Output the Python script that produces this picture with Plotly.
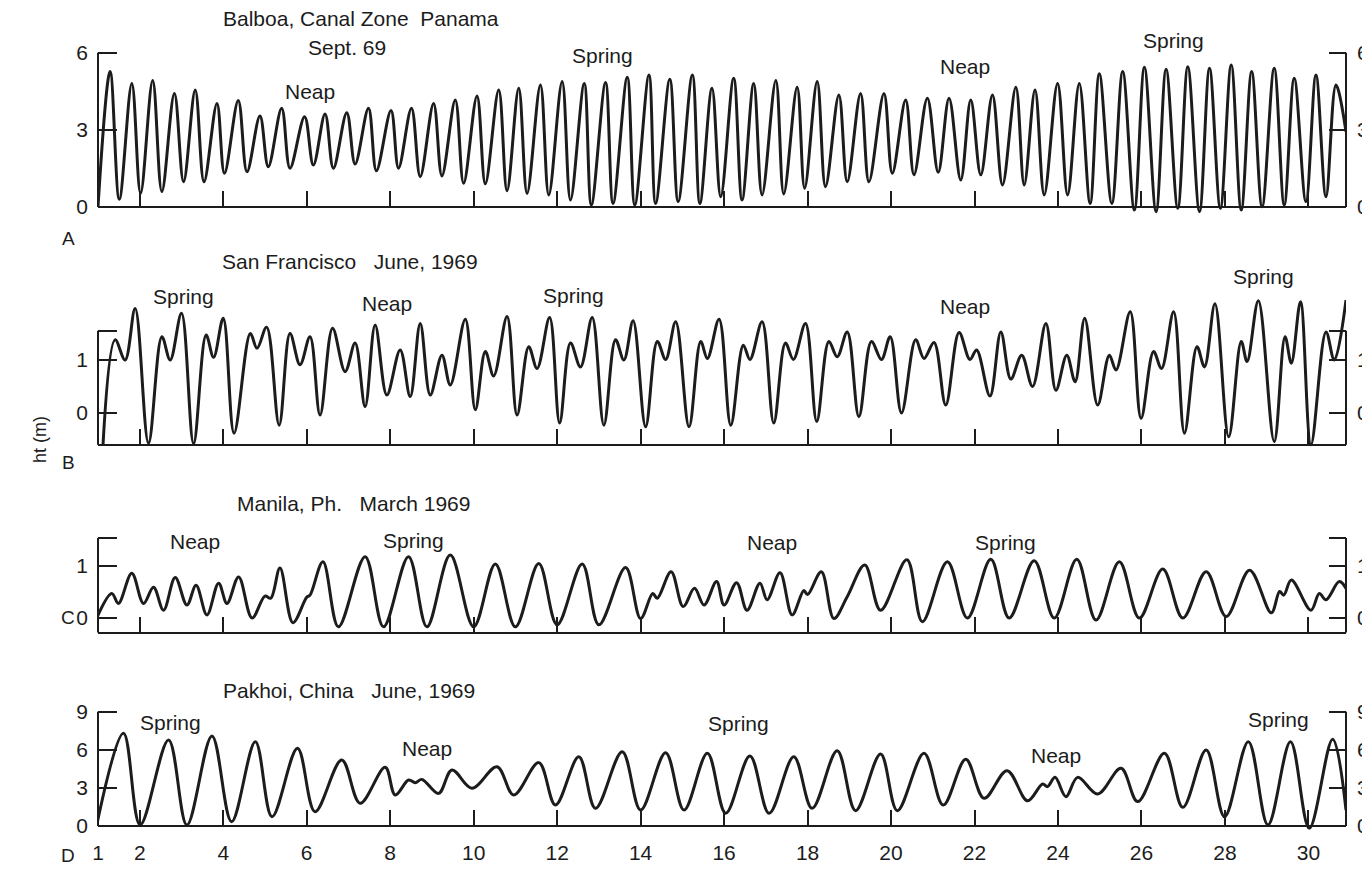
import plotly.graph_objects as go

INK = "#1c1c1c"
FONT = "Liberation Sans, Arial, Helvetica, sans-serif"

# ---------------- data: times (day of month) and heights (m) of the traced curve turning points ----
balboa_day = [1.0, 1.29, 1.51, 1.81, 2.02, 2.31, 2.53, 2.83, 3.05, 3.33, 3.54, 3.85, 4.03, 4.36, 4.57,
              4.88, 5.08, 5.40, 5.60, 5.95, 6.16, 6.44, 6.64, 6.96, 7.16, 7.48, 7.67, 8.02, 8.20, 8.51,
              8.72, 9.04, 9.24, 9.56, 9.76, 10.08, 10.28, 10.60, 10.80, 11.08, 11.28, 11.60, 11.80,
              12.12, 12.32, 12.65, 12.82, 13.16, 13.34, 13.68, 13.86, 14.20, 14.36, 14.70, 14.90,
              15.24, 15.42, 15.71, 15.92, 16.23, 16.43, 16.71, 16.91, 17.24, 17.43, 17.75, 17.93,
              18.23, 18.43, 18.75, 18.95, 19.27, 19.47, 19.83, 20.03, 20.35, 20.55, 20.87, 21.13,
              21.39, 21.67, 21.91, 22.15, 22.43, 22.67, 22.99, 23.19, 23.45, 23.67, 23.99, 24.23,
              24.51, 24.77, 24.99, 25.29, 25.55, 25.83, 26.07, 26.35, 26.59, 26.87, 27.11, 27.39,
              27.63, 27.89, 28.15, 28.39, 28.64, 28.89, 29.18, 29.42, 29.66, 29.94, 30.18, 30.42,
              30.66, 30.90]
balboa_ht = [0.0, 5.27, 0.30, 4.81, 0.53, 4.92, 0.60, 4.42, 0.98, 4.55, 0.98, 4.03, 1.31, 4.14, 1.37,
             3.54, 1.57, 3.84, 1.51, 3.51, 1.63, 3.62, 1.51, 3.67, 1.67, 3.84, 1.41, 3.75, 1.51, 3.84,
             1.18, 4.03, 1.21, 4.16, 0.92, 4.32, 0.90, 4.55, 0.63, 4.62, 0.53, 4.75, 0.47,
             4.88, 0.27, 4.81, 0.08, 4.84, 0.14, 5.05, 0.08, 5.14, 0.14, 4.97, 0.21,
             5.14, 0.14, 4.62, 0.40, 5.01, 0.27, 4.81, 0.47, 4.92, 0.51, 4.66, 0.73,
             4.88, 0.79, 4.36, 0.98, 4.42, 0.98, 4.42, 1.31, 4.16, 1.25, 4.23, 1.35,
             4.23, 1.05, 4.16, 1.25, 4.36, 0.86, 4.66, 0.86, 4.55, 0.47, 4.81, 0.47,
             4.81, 0.14, 5.18, 0.14, 5.27, -0.12, 5.44, -0.18, 5.36, -0.05, 5.46, -0.18,
             5.40, -0.05, 5.53, -0.12, 5.27, 0.01, 5.40, 0.08, 5.01, 0.21, 5.14, 0.40,
             4.75, 2.93]

sanfran_day = [1.12, 1.41, 1.65, 1.89, 2.21, 2.53, 2.73, 3.00, 3.29, 3.59, 3.77, 4.00, 4.26, 4.65,
               4.81, 5.04, 5.34, 5.60, 5.84, 6.08, 6.32, 6.62, 6.92, 7.16, 7.40, 7.64, 7.92, 8.24,
               8.48, 8.72, 8.96, 9.24, 9.44, 9.80, 10.04, 10.28, 10.48, 10.80, 11.04, 11.32, 11.52,
               11.82, 12.06, 12.32, 12.56, 12.84, 13.12, 13.40, 13.60, 13.82, 14.12, 14.40, 14.60,
               14.84, 15.16, 15.44, 15.60, 15.88, 16.16, 16.46, 16.62, 16.91, 17.19, 17.47, 17.66,
               17.95, 18.22, 18.51, 18.71, 18.95, 19.23, 19.53, 19.77, 19.98, 20.25, 20.59, 20.79,
               21.03, 21.31, 21.63, 21.89, 22.05, 22.37, 22.63, 22.87, 23.13, 23.39, 23.71, 23.95,
               24.21, 24.41, 24.64, 24.95, 25.23, 25.39, 25.73, 25.99, 26.29, 26.48, 26.77, 27.03,
               27.33, 27.51, 27.76, 28.09, 28.39, 28.53, 28.80, 29.18, 29.44, 29.59, 29.81, 30.06,
               30.42, 30.62, 30.90]
sanfran_ht = [-0.60, 1.38, 1.00, 1.97, -0.57, 1.44, 1.00, 1.88, -0.58, 1.47, 1.05, 1.79, -0.38, 1.50,
              1.22, 1.62, -0.23, 1.50, 0.91, 1.44, -0.04, 1.60, 0.78, 1.32, 0.12, 1.66, 0.34, 1.19,
              0.31, 1.69, 0.34, 1.09, 0.53, 1.77, 0.06, 1.16, 0.70, 1.82, -0.04, 1.25, 0.84,
              1.80, -0.19, 1.32, 0.87, 1.80, -0.23, 1.38, 1.00, 1.74, -0.26, 1.35, 1.01,
              1.72, -0.26, 1.35, 1.03, 1.77, -0.23, 1.28, 1.01, 1.72, -0.19, 1.32, 1.01,
              1.69, -0.16, 1.35, 1.06, 1.53, -0.07, 1.35, 1.01, 1.44, 0.00, 1.38, 1.03,
              1.33, 0.15, 1.52, 1.01, 1.19, 0.32, 1.53, 0.64, 1.09, 0.50, 1.69, 0.43,
              1.09, 0.59, 1.79, 0.15, 1.09, 0.81, 1.91, -0.10, 1.16, 0.84, 1.91, -0.38,
              1.25, 0.87, 2.06, -0.45, 1.35, 0.97, 2.12, -0.54, 1.44, 0.94, 2.10, -0.60,
              1.53, 1.00, 2.13]

manila_day = [0.97, 1.33, 1.49, 1.81, 2.09, 2.33, 2.57, 2.85, 3.13, 3.35, 3.61, 3.89, 4.09, 4.37, 4.69,
              5.00, 5.14, 5.36, 5.67, 6.00, 6.08, 6.39, 6.76, 7.40, 7.84, 8.44, 8.88, 9.44, 10.00,
              10.52, 11.00, 11.56, 12.00, 12.60, 13.00, 13.64, 14.00, 14.29, 14.40, 14.73, 15.02,
              15.29, 15.52, 15.82, 16.00, 16.30, 16.55, 16.86, 17.03, 17.34, 17.63, 17.91, 18.00,
              18.33, 18.63, 18.95, 19.37, 19.75, 20.38, 20.75, 21.35, 21.83, 22.39, 22.83, 23.43,
              23.91, 24.45, 24.91, 25.47, 25.95, 26.51, 26.99, 27.55, 28.03, 28.59, 29.11, 29.31,
              29.41, 29.59, 30.06, 30.26, 30.42, 30.74, 30.90]
manila_ht = [0.00, 0.47, 0.28, 0.86, 0.28, 0.59, 0.15, 0.78, 0.25, 0.63, 0.06, 0.67, 0.28, 0.79, 0.00,
             0.42, 0.38, 0.96, -0.09, 0.40, 0.44, 1.08, -0.17, 1.18, -0.17, 1.18, -0.17, 1.21, -0.17,
             1.04, -0.17, 1.05, -0.13, 1.04, -0.13, 0.97, -0.01, 0.47, 0.38, 0.89, 0.22,
             0.57, 0.25, 0.70, 0.25, 0.68, 0.15, 0.67, 0.35, 0.87, 0.06, 0.53, 0.45,
             0.89, -0.01, 0.41, 1.02, 0.15, 1.12, -0.07, 1.08, 0.00, 1.13, 0.00, 1.10,
             0.00, 1.13, -0.04, 1.08, 0.00, 0.94, 0.00, 0.89, 0.03, 0.92, 0.10, 0.51,
             0.44, 0.73, 0.15, 0.47, 0.35, 0.70, 0.57]

pakhoi_day = [0.97, 1.61, 2.01, 2.69, 3.13, 3.73, 4.20, 4.77, 5.17, 5.78, 6.20, 6.84, 7.28, 7.88, 8.12,
              8.44, 8.60, 8.76, 9.16, 9.48, 9.96, 10.56, 10.96, 11.56, 11.96, 12.52, 12.92, 13.56,
              14.00, 14.60, 15.04, 15.60, 16.04, 16.62, 17.08, 17.67, 18.11, 18.71, 19.15, 19.75,
              20.15, 20.79, 21.25, 21.79, 22.23, 22.78, 23.27, 23.63, 23.75, 23.93, 24.19, 24.47,
              24.95, 25.51, 25.91, 26.55, 26.99, 27.55, 27.99, 28.56, 29.03, 29.57, 30.02, 30.58,
              30.90]
pakhoi_ht = [0.08, 7.30, 0.08, 6.77, 0.08, 7.09, 0.34, 6.64, 0.73, 6.12, 1.13, 5.20, 1.79, 4.62, 2.44,
             3.62, 3.41, 3.67, 2.57, 4.41, 2.97, 4.67, 2.44, 4.99, 1.65, 5.46, 1.39, 5.85,
             1.26, 5.77, 1.26, 5.72, 1.00, 5.51, 1.00, 5.46, 1.39, 5.93, 1.21, 5.67,
             1.21, 5.72, 1.65, 5.25, 2.18, 4.36, 1.99, 3.31, 3.10, 3.83, 2.31, 3.83,
             2.52, 4.54, 1.92, 5.72, 1.47, 5.98, 0.73, 6.64, 0.08, 6.64, -0.18, 6.83,
             1.26]

x_tickvals = [1, 2, 4, 6, 8, 10, 12, 14, 16, 18, 20, 22, 24, 26, 28, 30]
x_ticktext = [str(v) for v in x_tickvals]

# ---------------- layout helpers (page pixels -> paper coords) ----------------
OFF = 8                     # default page body margin
FIG_W, FIG_H = 1370 - OFF, 883 - OFF

def pyp(p):
    return 1 - (p - OFF) / FIG_H

def pxp(p):
    return (p - OFF) / FIG_W

X0_PX, X1_PX = 98, 1346
XRANGE = [1, 30.9]

panels = [
    dict(day=balboa_day, ht=balboa_ht, zero=207, scale=25.7, yr=[-0.3, 6.1], base=0, top=6,
         tv=[0, 3, 6], tt=["0", "3", "6"]),
    dict(day=sanfran_day, ht=sanfran_ht, zero=413, scale=53, yr=[-0.65, 2.2], base=-0.6, top=1.55,
         tv=[0, 1, 1.55], tt=["0", "1", ""]),
    dict(day=manila_day, ht=manila_ht, zero=618, scale=52, yr=[-0.3, 1.6], base=-0.28, top=1.54,
         tv=[0, 1, 1.54], tt=["0", "1", ""]),
    dict(day=pakhoi_day, ht=pakhoi_ht, zero=826, scale=12.7, yr=[-0.3, 9.2], base=0, top=9,
         tv=[0, 3, 6, 9], tt=["0", "3", "6", "9"]),
]

fig = go.Figure()
shapes = []
tickfont = dict(family=FONT, size=21, color=INK)

for i, p in enumerate(panels, start=1):
    xa = "x" if i == 1 else f"x{i}"
    ya = "y" if i == 1 else f"y{i}"
    yr_name = f"y{i + 4}"
    top_px = p["zero"] - p["yr"][1] * p["scale"]
    bot_px = p["zero"] - p["yr"][0] * p["scale"]
    base_px = p["zero"] - p["base"] * p["scale"]

    fig.add_trace(go.Scatter(x=p["day"], y=p["ht"], mode="lines", xaxis=xa, yaxis=ya,
                             line=dict(color=INK, width=3, shape="spline", smoothing=1.0),
                             showlegend=False, hoverinfo="skip"))
    fig.add_trace(go.Scatter(x=[None], y=[None], xaxis=xa, yaxis=yr_name, showlegend=False,
                             hoverinfo="skip"))

    last = (i == 4)
    fig.update_layout(**{
        ("xaxis" if i == 1 else f"xaxis{i}"): dict(
            domain=[pxp(X0_PX), pxp(X1_PX)], range=XRANGE, anchor="free", position=pyp(base_px),
            showline=True, linecolor=INK, linewidth=2, ticks="inside", ticklen=15, tickwidth=2,
            tickcolor=INK, tickvals=x_tickvals, ticktext=x_ticktext, showticklabels=last,
            tickfont=tickfont, ticklabelstandoff=8, showgrid=False, zeroline=False,
            automargin=False, fixedrange=True),
        ("yaxis" if i == 1 else f"yaxis{i}"): dict(
            domain=[pyp(bot_px), pyp(top_px)], range=p["yr"], anchor=xa, side="left",
            showline=False, ticks="inside", ticklen=19, tickwidth=2, tickcolor=INK,
            tickvals=p["tv"], ticktext=p["tt"], tickfont=tickfont, ticklabelstandoff=9,
            showgrid=False, zeroline=False, automargin=False, fixedrange=True),
        f"yaxis{i + 4}": dict(
            range=p["yr"], overlaying=ya, anchor=xa, side="right",
            showline=False, ticks="inside", ticklen=17, tickwidth=2, tickcolor=INK,
            tickvals=p["tv"], ticktext=p["tt"], tickfont=tickfont, ticklabelstandoff=10,
            showgrid=False, zeroline=False, automargin=False, fixedrange=True),
    })
    for xd in (0, 1):
        shapes.append(dict(type="line", xref=f"{xa} domain", yref=ya, x0=xd, x1=xd,
                           y0=p["base"], y1=p["top"], line=dict(color=INK, width=2)))

# ---------------- text labels ----------------
NB = "\u00a0"
labels = [
    ("Balboa, Canal Zone" + NB * 2 + "Panama", 361, 18), ("Sept. 69", 347, 48),
    ("Neap", 310, 91), ("Spring", 602, 55), ("Neap", 965, 67), ("Spring", 1173, 40),
    ("San Francisco" + NB * 3 + "June, 1969", 350, 262), ("Spring", 183, 296), ("Neap", 387, 303),
    ("Spring", 573, 295), ("Neap", 965, 307), ("Spring", 1263, 277),
    ("Manila, Ph." + NB * 3 + "March 1969", 353, 503), ("Neap", 195, 541), ("Spring", 413, 540),
    ("Neap", 772, 542), ("Spring", 1005, 542),
    ("Pakhoi, China" + NB * 3 + "June, 1969", 349, 690), ("Spring", 170, 722), ("Neap", 427, 748),
    ("Spring", 739, 723), ("Neap", 1056, 755), ("Spring", 1278, 719),
]
panel_letters = [("A", 68, 238), ("B", 68, 462), ("C", 68, 617), ("D", 68, 855)]

annotations = []
for txt, x, y in labels:
    annotations.append(dict(text=txt, x=pxp(x), y=pyp(y), xref="paper", yref="paper",
                            xanchor="center", yanchor="middle", showarrow=False,
                            font=dict(family=FONT, size=21, color=INK)))
for txt, x, y in panel_letters:
    annotations.append(dict(text=txt, x=pxp(x), y=pyp(y), xref="paper", yref="paper",
                            xanchor="center", yanchor="middle", showarrow=False,
                            font=dict(family=FONT, size=19, color=INK)))
annotations.append(dict(text="ht (m)", x=pxp(40), y=pyp(440), xref="paper", yref="paper",
                        xanchor="center", yanchor="middle", showarrow=False, textangle=-90,
                        font=dict(family=FONT, size=18, color=INK)))

fig.update_layout(width=FIG_W, height=FIG_H,
                  margin=dict(l=0, r=0, t=0, b=0, pad=0, autoexpand=False),
                  paper_bgcolor="white", plot_bgcolor="rgba(0,0,0,0)",
                  shapes=shapes, annotations=annotations, showlegend=False)

fig.write_html("out.html")
